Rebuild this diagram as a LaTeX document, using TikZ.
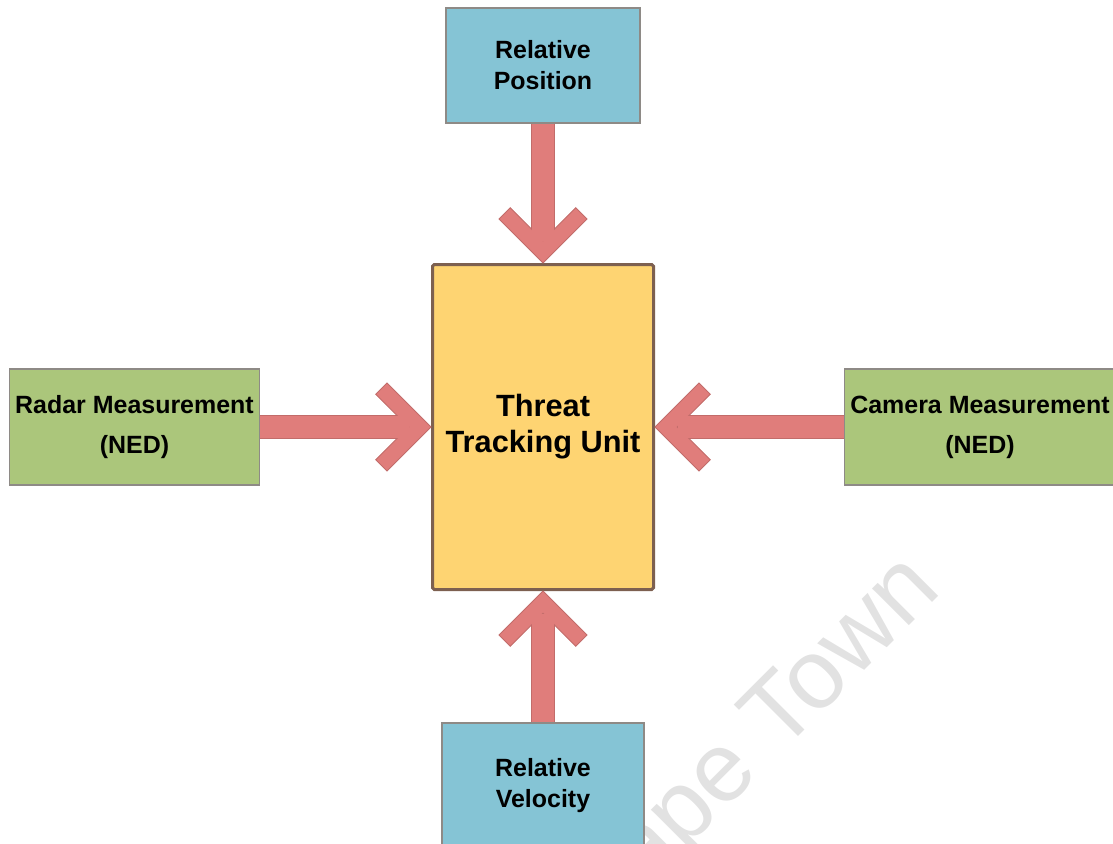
\documentclass[tikz,border=0pt]{standalone}
\usepackage{fontspec}
\setmainfont{Liberation Sans}
\definecolor{boxblue}{HTML}{85C4D5}
\definecolor{boxgreen}{HTML}{ABC67B}
\definecolor{boxedge}{HTML}{8E8A86}
\definecolor{unitfill}{HTML}{FED472}
\definecolor{unitedge}{HTML}{7D6050}
\definecolor{flowred}{HTML}{E07D7B}
\definecolor{flowedge}{HTML}{C26C6A}
\definecolor{wmgray}{HTML}{E2E2E2}
\tikzset{
	inbox/.style={draw=boxedge, line width=0.6pt, align=center, font=\fontsize{14.2}{17.7}\selectfont\bfseries},
	shaft/.style={draw=flowred, line width=0.44cm, shorten >=0.45cm},
	shaftedge/.style={draw=flowedge, line width=0.47cm, shorten >=0.45cm},
	chevron/.pic={
		\filldraw[fill=flowred, draw=flowedge, line width=0.5pt] (0,0) -- (-0.88,0.88) -- (-1.106,0.654) -- (-0.446,0) -- (-1.106,-0.654) -- (-0.88,-0.88) -- cycle;
	}
}
\begin{document}
\begin{tikzpicture}
			\useasboundingbox (0,0) rectangle (22.26,-16.86);
			\node[rotate=45, anchor=base west, text=wmgray, font=\fontsize{56}{56}\selectfont] (wm) at (11.81,-18.89) {Cape Town};
			\node[draw=unitedge, line width=0.06cm, fill=unitfill, rounded corners=1pt, minimum width=4.42cm, minimum height=6.5cm, align=center, font=\fontsize{17.5}{20.5}\selectfont\bfseries] (unit) at (10.86,-8.54) {Threat\\Tracking Unit};
			\node[inbox, fill=boxblue, minimum width=3.88cm, minimum height=2.3cm] (relpos) at (10.86,-1.31) {Relative\\Position};
			\node[inbox, fill=boxblue, minimum width=4.04cm, minimum height=2.5cm] (relvel) at (10.86,-15.71) {Relative\\Velocity};
			\node[inbox, fill=boxgreen, minimum width=4.98cm, minimum height=2.32cm] (radar) at (2.69,-8.54) {Radar Measurement\\[5.1pt](NED)};
			\node[inbox, fill=boxgreen, minimum width=5.4cm, minimum height=2.32cm] (camera) at (19.6,-8.54) {Camera Measurement\\[5.1pt](NED)};
			\draw[shaftedge] (relpos) -- (unit);
			\draw[shaftedge] (relvel) -- (unit);
			\draw[shaftedge] (radar) -- (unit);
			\draw[shaftedge] (camera) -- (unit);
			\pic[rotate=-90] at (unit.north) {chevron};
			\pic[rotate=90] at (unit.south) {chevron};
			\pic at (unit.west) {chevron};
			\pic[rotate=180] at (unit.east) {chevron};
			\draw[shaft] (relpos) -- (unit);
			\draw[shaft] (relvel) -- (unit);
			\draw[shaft] (radar) -- (unit);
			\draw[shaft] (camera) -- (unit);
		\end{tikzpicture}
\end{document}
